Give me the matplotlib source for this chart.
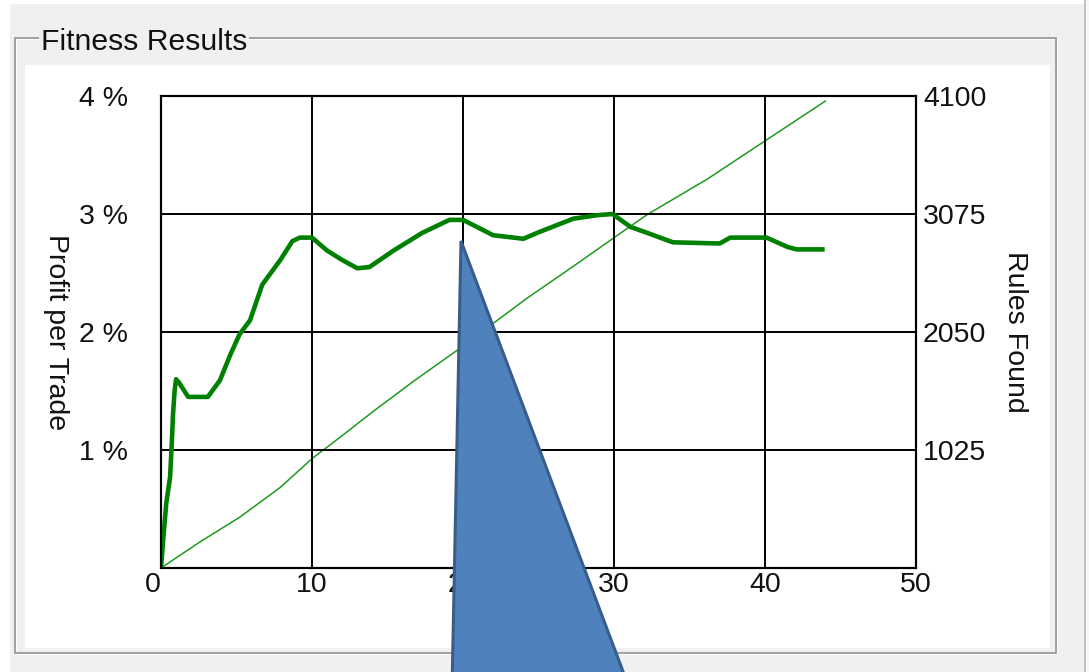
import matplotlib
matplotlib.use("Agg")
import matplotlib.pyplot as plt
from matplotlib.patches import Rectangle, Polygon
from matplotlib.lines import Line2D

# ---- data ----
gen_profit = [0.0, 0.15, 0.35, 0.6, 0.7, 0.8, 0.9, 1.0, 1.2, 1.8, 3.1, 3.9, 4.6, 5.2, 5.9,
              6.7, 7.9, 8.7, 9.2, 10.0, 11.0, 12.0, 13.0, 13.8, 15.4, 17.3, 19.1, 20.0,
              22.0, 24.0, 25.1, 27.3, 28.9, 29.9, 31.1, 32.2, 33.9, 37.0, 37.7, 40.1,
              41.5, 42.1, 43.8]
profit_pct = [0.0, 0.25, 0.55, 0.77, 1.02, 1.31, 1.50, 1.60, 1.57, 1.45, 1.45, 1.59, 1.81,
              1.98, 2.10, 2.40, 2.61, 2.77, 2.80, 2.80, 2.69, 2.61, 2.54, 2.55, 2.69, 2.84,
              2.95, 2.95, 2.82, 2.79, 2.85, 2.96, 2.99, 3.00, 2.89, 2.84, 2.76, 2.75, 2.80,
              2.80, 2.72, 2.70, 2.70]
gen_rules = [0, 2.6, 5.2, 7.9, 10.0, 12.0, 14.0, 16.7, 19.6, 24.2, 27.3, 29.9, 32.2,
             36.2, 40.0, 44.0]
rules_found = [0, 228, 440, 700, 950, 1150, 1355, 1620, 1890, 2340, 2620, 2860, 3070,
               3380, 3710, 4056]

x_ticks = [0, 10, 20, 30, 40, 50]
left_ticks = [1, 2, 3, 4]
left_labels = ["1 %", "2 %", "3 %", "4 %"]
right_ticks = [1025, 2050, 3075, 4100]
right_labels = ["1025", "2050", "3075", "4100"]

W, H = 1089, 672
FONT = "Liberation Sans"
FS = 20.5

def fx(px):
    return px / W

def fy(py):
    return 1 - py / H

fig = plt.figure(figsize=(W / 100, H / 100), dpi=100)
fig.patch.set_facecolor("#F0F0F0")

# window chrome / group box
fig.add_artist(Rectangle((0, 0), fx(10), 1, transform=fig.transFigure, facecolor="white", edgecolor="none", zorder=0))
fig.add_artist(Rectangle((0, fy(4)), 1, 1 - fy(4), transform=fig.transFigure, facecolor="white", edgecolor="none", zorder=0))
fig.add_artist(Rectangle((fx(1086), 0), 1 - fx(1086), 1, transform=fig.transFigure, facecolor="#F7F7F7", edgecolor="none", zorder=0))
fig.add_artist(Line2D([fx(1085), fx(1085)], [0, 1], transform=fig.transFigure, color="#B8B8B8", lw=1.2, zorder=0.5))
fig.add_artist(Rectangle((fx(16), fy(654)), fx(1057) - fx(16), fy(39) - fy(654), transform=fig.transFigure,
                         facecolor="none", edgecolor="white", lw=1.2, zorder=0.5))
fig.add_artist(Rectangle((fx(15), fy(653)), fx(1056) - fx(15), fy(38) - fy(653), transform=fig.transFigure,
                         facecolor="none", edgecolor="#A0A0A0", lw=1.4, zorder=0.6))
fig.add_artist(Rectangle((fx(25), fy(648)), fx(1050) - fx(25), fy(65) - fy(648), transform=fig.transFigure,
                         facecolor="white", edgecolor="none", zorder=0.7))
fig.text(fx(41), fy(42), "Fitness Results", fontsize=FS + 1.2, family=FONT, color="#111111",
         ha="left", va="center", zorder=1,
         bbox=dict(facecolor="#F0F0F0", edgecolor="none", pad=1.5))

# axes
ax = fig.add_axes([fx(161), fy(568), fx(916) - fx(161), fy(96) - fy(568)])
ax2 = ax.twinx()
ax2.set_zorder(2)
ax.set_zorder(3)
ax.patch.set_visible(False)
ax2.patch.set_facecolor("white")

ax2.plot(gen_rules, rules_found, color="#1E9A1E", lw=1.1)
ax.plot(gen_profit, profit_pct, color="#008000", lw=3.3, solid_joinstyle="round")

ax.set_xlim(0, 50)
ax.set_ylim(0, 4)
ax2.set_ylim(0, 4100)

ax.set_xticks(x_ticks)
ax.set_xticklabels([str(t) for t in x_ticks])
ax.set_yticks(left_ticks)
ax.set_yticklabels(left_labels)
ax2.set_yticks(right_ticks)
ax2.set_yticklabels(right_labels)

ax.grid(True, color="black", lw=1.4)
ax.set_axisbelow(True)

for a in (ax, ax2):
    for s in a.spines.values():
        s.set_color("black")
        s.set_linewidth(1.5)

ax.tick_params(axis="x", length=0, pad=3, labelsize=FS)
ax.tick_params(axis="y", length=0, pad=24, labelsize=FS)
ax2.tick_params(axis="y", length=0, pad=5, labelsize=FS)
for lbl in ax.get_xticklabels() + ax.get_yticklabels() + ax2.get_yticklabels():
    lbl.set_family(FONT)
    lbl.set_color("#111111")
ax.get_xticklabels()[0].set_horizontalalignment("right")

ax.set_ylabel("Profit per Trade", rotation=270, fontsize=FS, family=FONT, color="#111111",
              ha="center", va="center")
ax.yaxis.set_label_coords((56 - 161) / 755, 0.5)
ax2.set_ylabel("Rules Found", rotation=270, fontsize=FS, family=FONT, color="#111111",
               ha="center", va="center")
ax2.yaxis.set_label_coords((1015 - 161) / 755, 0.5)

# callout pointer overlay
tri = Polygon([(fx(461), fy(241)), (fx(452), fy(690)), (fx(630), fy(690))], closed=True,
              transform=fig.transFigure, facecolor="#4F81BD", edgecolor="#385D8A", lw=2.2,
              joinstyle="miter", zorder=10, clip_on=False)
fig.add_artist(tri)

fig.savefig("out.png", dpi=100, facecolor=fig.get_facecolor())
